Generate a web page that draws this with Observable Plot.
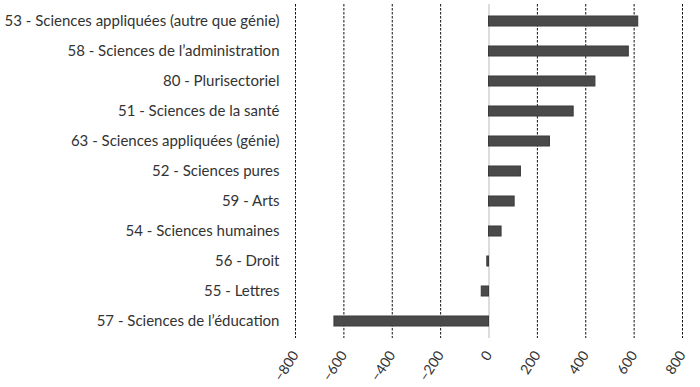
<!DOCTYPE html>
<html>
<head>
<meta charset="utf-8">
<script src="https://cdn.jsdelivr.net/npm/d3@7"></script>
<script src="https://cdn.jsdelivr.net/npm/@observablehq/plot@0.6"></script>
<style>
  html, body { margin: 0; padding: 0; background: #fff; }
  #chart { width: 700px; height: 387px; }
</style>
</head>
<body>
<div id="chart"></div>
<script>
const categories = [
  "53 - Sciences appliquées (autre que génie)",
  "58 - Sciences de l’administration",
  "80 - Plurisectoriel",
  "51 - Sciences de la santé",
  "63 - Sciences appliquées (génie)",
  "52 - Sciences pures",
  "59 - Arts",
  "54 - Sciences humaines",
  "56 - Droit",
  "55 - Lettres",
  "57 - Sciences de l’éducation"
];
const values = [617, 578, 440, 350, 252, 132, 106, 52, -7, -30, -639];
const xTicks = [-800, -600, -400, -200, 0, 200, 400, 600, 800];

const data = categories.map((c, i) => ({category: c, value: values[i]}));

const chart = Plot.plot({
  width: 700,
  height: 387,
  marginLeft: 295,
  marginRight: 18,
  marginTop: 4,
  marginBottom: 49,
  style: {fontFamily: "Lato, 'Open Sans', sans-serif", background: "#fff"},
  x: {domain: [-800, 800], ticks: xTicks, label: null},
  y: {domain: categories, paddingInner: 0.67, paddingOuter: 0.335, label: null},
  marks: [
    Plot.ruleX(xTicks.filter(d => d !== 0), {stroke: "#111", strokeWidth: 1, strokeDasharray: "2.5,1.5"}),
    Plot.ruleX([0], {stroke: "#d0d0d0", strokeWidth: 1.5}),
    Plot.barX(data, {y: "category", x: "value", fill: "#4a4a4a", stroke: "#3a3a3a", strokeWidth: 1}),
    Plot.axisY({tickSize: 0, tickPadding: 16, fontSize: 15, color: "#333", label: null}),
    Plot.axisX({ticks: xTicks, tickSize: 0, tickPadding: 14, tickRotate: -57, fontSize: 14, color: "#333", label: null})
  ]
});
document.getElementById("chart").appendChild(chart);
</script>
</body>
</html>
